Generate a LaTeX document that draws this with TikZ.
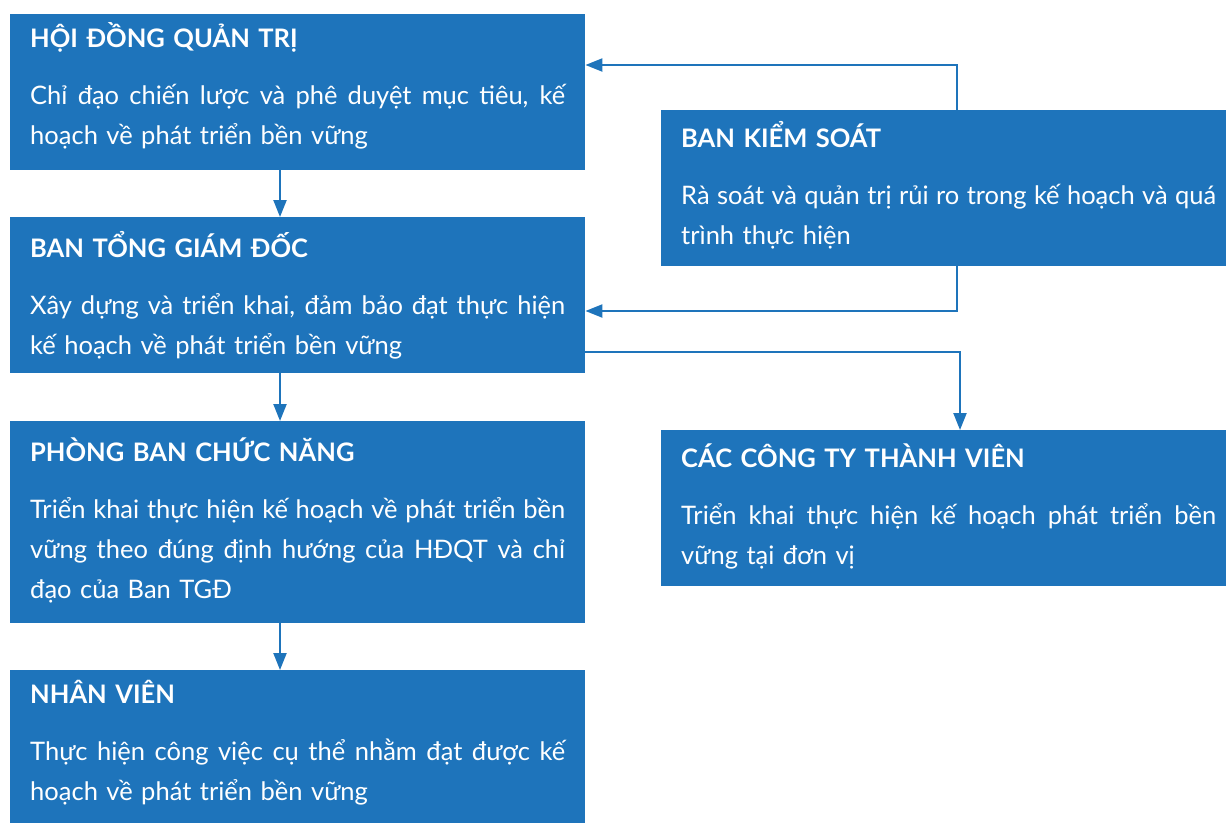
\documentclass[tikz,border=0pt]{standalone}
\usepackage{fontspec}
\setmainfont{Lato}
\usetikzlibrary{arrows.meta}
\definecolor{xanhkhoi}{RGB}{30,116,187}
\tikzset{
khoi/.style={fill=xanhkhoi,text=white,anchor=north west,inner xsep=20pt,inner ysep=0pt,text width=535pt,align=left,font=\fontsize{25.5}{40}\selectfont},
noi/.style={draw=xanhkhoi,line width=2.2pt,-{Triangle[length=17pt,width=13pt]}}
}
\newcommand{\hop}[4]{\rule{0pt}{#1pt}\textbf{#3}\\[17pt]#4\rule[-#2pt]{0pt}{#2pt}}
\newcommand{\dong}[1]{\leavevmode\hbox to535pt{\spaceskip=.25em plus 1fil minus 1fil\relax#1}}
\begin{document}
\begin{tikzpicture}[x=1pt,y=-1pt]
\useasboundingbox(0,0)rectangle(1226,822);
\clip(0,0)rectangle(1226,822);
\node[khoi](hdqt)at(10,14){\hop{33}{26}{HỘI ĐỒNG QUẢN TRỊ}{\dong{Chỉ đạo chiến lược và phê duyệt mục tiêu, kế}\\hoạch về phát triển bền vững}};
\node[khoi](btgd)at(10,217){\hop{40}{19}{BAN TỔNG GIÁM ĐỐC}{\dong{Xây dựng và triển khai, đảm bảo đạt thực hiện}\\kế hoạch về phát triển bền vững}};
\node[khoi](pbcn)at(10,421){\hop{40}{25}{PHÒNG BAN CHỨC NĂNG}{\dong{Triển khai thực hiện kế hoạch về phát triển bền}\\\dong{vững theo đúng định hướng của HĐQT và chỉ}\\đạo của Ban TGĐ}};
\node[khoi](nv)at(10,670){\hop{33}{26}{NHÂN VIÊN}{\dong{Thực hiện công việc cụ thể nhằm đạt được kế}\\hoạch về phát triển bền vững}};
\node[khoi](bks)at(661,110){\hop{37}{22}{BAN KIỂM SOÁT}{\dong{Rà soát và quản trị rủi ro trong kế hoạch và quá}\\trình thực hiện}};
\node[khoi](cttv)at(661,430){\hop{37}{22}{CÁC CÔNG TY THÀNH VIÊN}{\dong{Triển khai thực hiện kế hoạch phát triển bền}\\vững tại đơn vị}};
\coordinate(truc)at(280,0);
\coordinate(cot)at(957,0);
\coordinate(cot2)at(960,0);
\foreach \a/\b in {hdqt/btgd,btgd/pbcn,pbcn/nv}{\draw[noi](\a.south -| truc)--(\b.north -| truc);}
\foreach \h/\d/\c in {65/north/hdqt,311/south/btgd}{\coordinate(m\c)at(0,\h);\draw[noi](bks.\d -| cot)|-(\c.east |- m\c);}
\coordinate(mra)at(0,352);
\draw[noi](btgd.east |- mra)-|(cttv.north -| cot2);
\end{tikzpicture}
\end{document}
